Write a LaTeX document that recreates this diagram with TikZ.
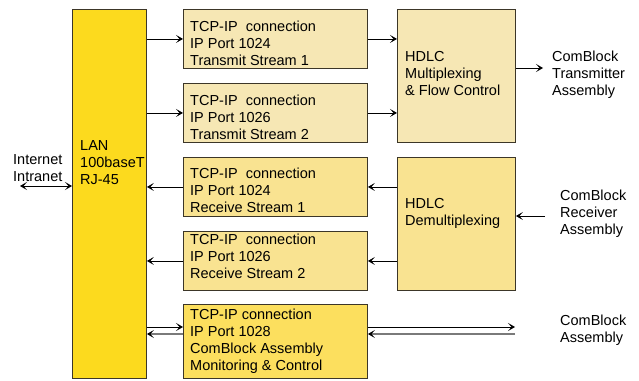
\documentclass[tikz,border=0pt]{standalone}
\usepackage{fontspec}
\setmainfont{Liberation Sans}
\usetikzlibrary{arrows.meta}

\definecolor{boxline}{HTML}{3C3628}
\definecolor{lanfill}{HTML}{FCDA1E}
\definecolor{txfill}{HTML}{F6E7B4}
\definecolor{rxfill}{HTML}{F9E391}
\definecolor{monfill}{HTML}{FCDF5E}
\definecolor{backline}{HTML}{7A7A7A}

\begin{document}
\begin{tikzpicture}[x=1pt,y=-1pt,
    box/.style={draw=boxline,line width=0.9pt,anchor=north west,inner sep=0pt},
    lbl/.style={anchor=base west,align=left,inner sep=0pt,
      font=\fontsize{14.5}{17}\selectfont},
    barb/.tip={Stealth[length=7pt,width=8pt,inset=3.5pt,color=black]},
    flow/.style={-barb,line width=0.8pt}]
    \useasboundingbox (0,0) rectangle (639,380);
    % boxes
    \node[box,fill=lanfill,minimum width=74,minimum height=369] (lan) at (72,9) {};
    \foreach \n/\y/\c in {tx1/9/txfill,tx2/83/txfill,rx1/157/rxfill,rx2/231/rxfill}{
      \node[box,fill=\c,minimum width=184,minimum height=59] (\n) at (183,\y) {};
    }
    \node[box,fill=monfill,minimum width=184,minimum height=74] (mon) at (183,304) {};
    \node[box,fill=txfill,minimum width=118,minimum height=133] (mux) at (397,9) {};
    \node[box,fill=rxfill,minimum width=118,minimum height=133] (demux) at (397,157) {};
    % texts (placed by the baseline of their last line)
    \node[lbl] (lantext) at (80,184) {LAN\\100baseT\\RJ-45};
    \node[lbl] (tx1text) at (190,65) {TCP-IP\ \ connection\\IP Port 1024\\Transmit Stream 1};
    \node[lbl] (tx2text) at (190,139) {TCP-IP\ \ connection\\IP Port 1026\\Transmit Stream 2};
    \node[lbl] (rx1text) at (190,212) {TCP-IP\ \ connection\\IP Port 1024\\Receive Stream 1};
    \node[lbl] (rx2text) at (190,278) {TCP-IP\ \ connection\\IP Port 1026\\Receive Stream 2};
    \node[lbl] (montext) at (190,370) {TCP-IP connection\\IP Port 1028\\ComBlock Assembly\\Monitoring \& Control};
    \node[lbl] (muxtext) at (405,95) {HDLC\\Multiplexing\\\& Flow Control};
    \node[lbl] (demuxtext) at (405,225) {HDLC\\Demultiplexing};
    \node[lbl] (nettext) at (13,181) {Internet\\Intranet};
    \node[lbl] (txasm) at (552,95) {ComBlock\\Transmitter\\Assembly};
    \node[lbl] (rxasm) at (560,234) {ComBlock\\Receiver\\Assembly};
    \node[lbl] (asm) at (560,342) {ComBlock\\Assembly};
    % free ends
    \coordinate (net) at (20,186);
    \coordinate (txout) at (543,68);
    \coordinate (rxin) at (545,216);
    \coordinate (monout) at (515,327);
    \coordinate (monin) at (515,334);
    % connectors
    \draw[barb-barb,line width=0.8pt] (net) -- (lan.west |- net);
    \foreach \n in {tx1,tx2}{
      \draw[flow] (lan.east |- \n.west) -- (\n.west);
      \draw[flow] (\n.east) -- (mux.west |- \n.east);
    }
    \foreach \n in {rx1,rx2}{
      \draw[flow] (demux.west |- \n.east) -- (\n.east);
      \draw[flow] (\n.west) -- (lan.east |- \n.west);
    }
    \draw[flow] (mux.east |- txout) -- (txout);
    \draw[flow] (rxin) -- (demux.east |- rxin);
    \draw[flow] (lan.east |- monout) -- (mon.west |- monout);
    \draw[flow] (mon.east |- monout) -- (monout);
    \draw[flow,backline,line width=1.4pt] (mon.west |- monin) -- (lan.east |- monin);
    \draw[flow,backline,line width=1.4pt] (monin) -- (mon.east |- monin);
\end{tikzpicture}
\end{document}
